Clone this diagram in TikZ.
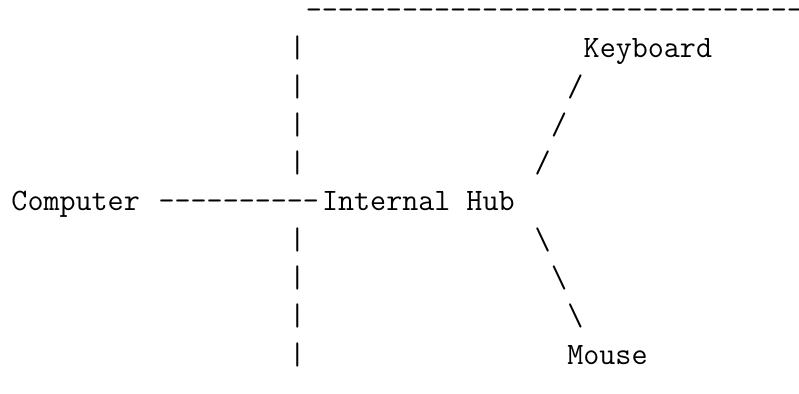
\documentclass[tikz,border=0pt]{standalone}
\begin{document}
\begin{tikzpicture}[x=12.2625pt,y=-28.725pt,
  ascii/.style={font=\fontsize{23.36}{28.7}\selectfont\ttfamily, inner sep=0pt, outer sep=0pt, anchor=base west}]
\newcommand\hyphens[1]{\foreach \i in {1,...,#1}{\hbox{-}}}
\useasboundingbox (0pt,0pt) rectangle (599.25pt,-294.75pt);
\clip (0pt,0pt) rectangle (599.25pt,-294.75pt);
\begin{scope}[shift={(8.6pt,-14.6pt)}]
  % top dashed line
  \node[ascii] (top) at (18,0) {\hyphens{31}};
  % vertical bar
  \foreach \r in {1,2,3,4,6,7,8,9} {\node[ascii] (bar\r) at (17,\r) {|};}
  % labels
  \node[ascii] (computer) at (0,5) {Computer};
  \node[ascii] (link) at (9,5) {\hyphens{10}};
  \node[ascii] (hub) at (19,5) {Internal Hub};
  \node[ascii] (keyboard) at (35,1) {Keyboard};
  \node[ascii] (mouse) at (34,9) {Mouse};
  % slashes to keyboard
  \node[ascii] (k1) at (34,2) {/};
  \node[ascii] (k2) at (33,3) {/};
  \node[ascii] (k3) at (32,4) {/};
  % backslashes to mouse
  \node[ascii] (m1) at (32,6) {\textbackslash};
  \node[ascii] (m2) at (33,7) {\textbackslash};
  \node[ascii] (m3) at (34,8) {\textbackslash};
\end{scope}
\end{tikzpicture}
\end{document}
